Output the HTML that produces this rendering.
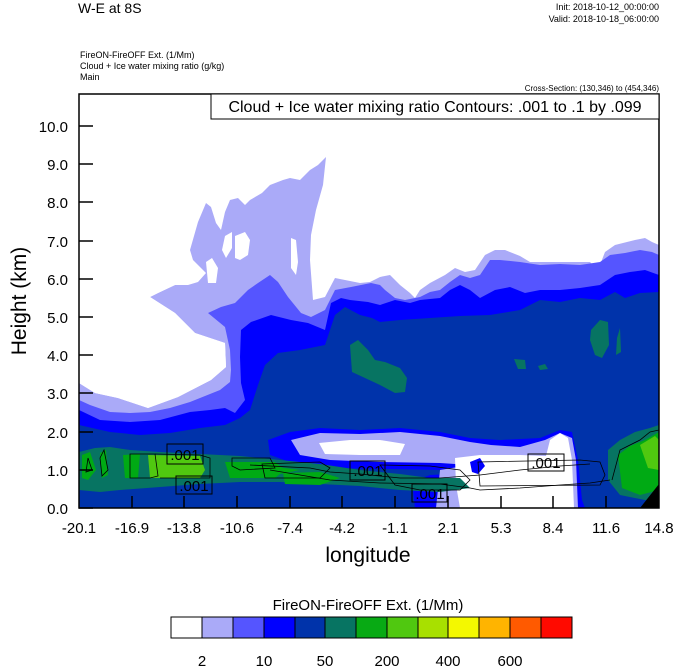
<!DOCTYPE html>
<html><head><meta charset="utf-8"><style>
body{margin:0;background:#fff;}
svg{display:block;font-family:"Liberation Sans",sans-serif;}
</style></head><body>
<svg width="674" height="667" viewBox="0 0 674 667" xmlns="http://www.w3.org/2000/svg">
<rect width="674" height="667" fill="#fff"/>
<text x="78" y="13" font-size="14">W-E at 8S</text>
<text x="659" y="10" font-size="9" text-anchor="end">Init: 2018-10-12_00:00:00</text>
<text x="659" y="22" font-size="9" text-anchor="end">Valid: 2018-10-18_06:00:00</text>
<text x="80" y="58" font-size="9">FireON-FireOFF Ext.   (1/Mm)</text>
<text x="80" y="69" font-size="9">Cloud + Ice water mixing ratio   (g/kg)</text>
<text x="80" y="80" font-size="9">Main</text>
<text x="659" y="91" font-size="8" text-anchor="end">Cross-Section: (130,346) to (454,346)</text>
<defs><clipPath id="c"><rect x="79" y="94" width="580" height="414"/></clipPath></defs>
<g clip-path="url(#c)">
<rect x="79" y="94" width="580" height="414" fill="#fff"/>
<polygon fill="#aaaaf8" points="79,508 79,383 95,393 118,398 148,408 178,397 211,380 226,367 225,343 195,333 175,313 150,297 158,293 175,285 188,285 198,282 206,273 193,260 190,250 198,222 206,203 211,207 216,223 221,230 225,212 230,200 238,198 245,205 250,200 262,193 270,185 283,180 290,178 300,180 310,170 318,165 326,157 323,185 316,210 311,235 310,260 313,300 325,297 335,278 345,280 360,283 370,282 380,277 390,275 400,285 410,293 415,298 420,290 430,283 445,275 455,268 465,272 475,270 485,255 495,250 505,250 520,256 530,262 550,262 570,262 590,262 598,270 605,252 615,245 635,240 645,238 652,242 659,245 659,508"/>
<polygon fill="#fff" points="79,94 188,94 188,284 175,285 158,293 150,297 175,313 195,333 225,343 226,367 211,380 178,397 148,408 118,398 95,393 79,383"/>
<polygon fill="#fff" points="225,236 232,232 232,248 226,258 222,250"/>
<polygon fill="#fff" points="235,236 245,232 250,240 248,255 240,260 235,258"/>
<polygon fill="#fff" points="206,262 212,258 218,268 216,283 208,283"/>
<polygon fill="#fff" points="291,238 296,240 298,262 296,275 291,268"/>
<polygon fill="#5555ff" points="79,400 90,405 110,412 130,413 150,412 170,408 190,402 205,396 220,390 230,382 231,370 230,350 225,327 208,313 221,307 235,303 248,290 258,283 270,275 278,282 288,297 301,313 311,317 325,310 335,290 351,287 371,283 380,285 385,290 395,298 405,300 420,297 430,292 440,290 450,282 460,275 470,278 480,275 490,260 500,260 520,262 540,265 560,264 580,265 600,262 610,255 625,253 640,250 652,252 659,255 659,508 79,508"/>
<polygon fill="#0000ff" points="79,410 100,420 130,422 160,420 190,412 210,410 225,408 235,413 245,400 241,383 240,357 241,330 251,322 271,315 291,320 308,323 325,330 331,303 341,298 350,300 368,302 380,305 395,300 410,303 420,300 440,298 450,290 460,285 470,290 480,298 495,290 510,287 525,293 540,290 560,290 580,288 600,285 615,275 630,272 645,270 659,275 659,508 79,508"/>
<polygon fill="#0033aa" points="79,425 110,432 140,435 170,433 200,428 225,425 240,418 250,410 258,385 265,365 278,353 300,350 325,345 335,315 345,307 360,315 372,318 380,322 400,320 430,318 460,316 490,315 520,310 540,300 560,302 580,298 600,300 615,292 625,298 640,293 659,292 659,508 79,508"/>
<polygon fill="#077462" points="350,345 358,340 368,350 375,360 385,362 400,368 407,378 405,392 395,393 380,385 365,378 352,372"/>
<polygon fill="#077462" points="591,330 600,320 608,322 609,345 602,358 595,355 590,340"/>
<polygon fill="#077462" points="617,338 620,328 621,352 616,355"/>
<polygon fill="#077462" points="514,359 525,360 526,369 518,369"/>
<polygon fill="#077462" points="538,366 545,364 548,369 540,370"/>
<polygon fill="#0000ff" points="268,440 290,432 320,428 360,430 400,428 440,432 470,438 500,440 540,438 560,430 572,432 578,460 582,500 585,508 415,508 412,482 430,475 470,473 440,470 330,468 290,462 270,455"/>
<polygon fill="#aaaaf8" points="291,440 320,433 360,434 400,432 440,436 470,442 491,445 520,447 545,440 560,433 572,438 576,460 578,508 436,508 440,470 470,465 440,463 380,462 330,460 300,455"/>
<polygon fill="#fff" points="319,443 350,440 380,440 405,444 400,455 360,455 325,454"/>
<polygon fill="#fff" points="455,458 480,455 520,455 546,456 550,440 560,433 568,438 572,460 574,508 460,508 456,485"/>
<polygon fill="#0000ff" points="470,462 480,458 485,466 478,474 472,472"/>
<polygon fill="#077462" points="79,452 95,448 110,447 130,450 160,452 200,454 240,456 280,460 320,464 360,470 400,474 430,478 460,478 470,488 440,492 400,490 360,486 320,484 280,482 240,482 200,484 160,487 120,490 100,492 79,490"/>
<polygon fill="#00aa14" points="82,455 90,452 96,470 88,480 82,478"/>
<polygon fill="#00aa14" points="100,453 106,450 108,475 102,478"/>
<polygon fill="#00aa14" points="123,455 140,454 138,478 125,478"/>
<polygon fill="#50c810" points="148,455 200,456 205,470 200,478 150,478"/>
<polygon fill="#00aa14" points="225,462 275,462 285,470 275,478 230,478"/>
<polygon fill="#00aa14" points="238,468 262,465 300,470 280,474 240,476"/>
<polygon fill="#00aa14" points="283,473 320,472 340,478 320,485 285,484"/>
<polygon fill="#077462" points="608,450 620,440 635,432 650,428 659,425 659,500 645,500 620,495 608,480"/>
<polygon fill="#00aa14" points="618,455 630,446 645,440 659,432 659,490 640,495 622,488"/>
<polygon fill="#50c810" points="640,445 655,436 659,440 659,470 648,468"/>
<polygon fill="#000" points="640,508 659,484 659,508"/>
<g fill="none" stroke="#000" stroke-width="0.8">
<path d="M130,454 L155,454 L158,476 L150,478 L130,478 Z"/>
<path d="M155,454 L200,455 L210,458 L210,478 L160,478"/>
<path d="M232,458 L270,458 L275,468 L240,470 L232,466 Z"/>
<path d="M250,465 L310,468 L330,472 L360,474 L400,478 L440,478 L480,475 L520,470 L560,466 L590,464"/>
<path d="M270,470 L330,480 L380,483 L440,484 L470,488 L480,490 L520,488 L560,485 L590,483 L610,480"/>
<path d="M262,464 L290,463 L320,462 L330,468 L320,478 L265,478 Z"/>
<path d="M380,465 L430,466 L460,470 L470,480 L460,490 L420,490 L395,485 Z"/>
<path d="M478,462 L580,460 L600,462 L605,475 L600,485 L480,486 Z"/>
<path d="M612,480 L620,450 L640,440 L650,432 L659,430"/>
<path d="M100,458 L104,450 L108,470 L102,476 Z"/>
<path d="M88,458 L92,470 L86,472 Z"/>
</g>
<g font-size="15" fill="#000">
<rect x="167" y="444" width="36" height="20" fill="none" stroke="#000" stroke-width="1"/><text x="185" y="460" text-anchor="middle">.001</text>
<rect x="176" y="476" width="36" height="18" fill="none" stroke="#000" stroke-width="1"/><text x="194" y="491" text-anchor="middle">.001</text>
<rect x="350" y="461" width="35" height="19" fill="none" stroke="#000" stroke-width="1"/><text x="368" y="476" text-anchor="middle">.001</text>
<rect x="412" y="484" width="35" height="18" fill="none" stroke="#000" stroke-width="1"/><text x="430" y="499" text-anchor="middle">.001</text>
<rect x="528" y="454" width="36" height="17" fill="none" stroke="#000" stroke-width="1"/><text x="546" y="468" text-anchor="middle">.001</text>
</g>
</g>
<rect x="79" y="94" width="580" height="414" fill="none" stroke="#000" stroke-width="1.5"/>
<rect x="211" y="94" width="448" height="25" fill="#fff" stroke="#000" stroke-width="1"/>
<text x="435" y="112" font-size="16" text-anchor="middle">Cloud + Ice water mixing ratio Contours: .001 to .1 by .099</text>
<g stroke="#000" stroke-width="1.5">
<line x1="79" y1="508" x2="93" y2="508"/><line x1="79" y1="470" x2="93" y2="470"/><line x1="79" y1="432" x2="93" y2="432"/><line x1="79" y1="393" x2="93" y2="393"/><line x1="79" y1="355" x2="93" y2="355"/><line x1="79" y1="317" x2="93" y2="317"/><line x1="79" y1="279" x2="93" y2="279"/><line x1="79" y1="241" x2="93" y2="241"/><line x1="79" y1="202" x2="93" y2="202"/><line x1="79" y1="164" x2="93" y2="164"/><line x1="79" y1="126" x2="93" y2="126"/>
<line x1="132" y1="508" x2="132" y2="496"/><line x1="184" y1="508" x2="184" y2="496"/><line x1="237" y1="508" x2="237" y2="496"/><line x1="290" y1="508" x2="290" y2="496"/><line x1="342" y1="508" x2="342" y2="496"/><line x1="395" y1="508" x2="395" y2="496"/><line x1="448" y1="508" x2="448" y2="496"/><line x1="501" y1="508" x2="501" y2="496"/><line x1="553" y1="508" x2="553" y2="496"/><line x1="606" y1="508" x2="606" y2="496"/>
</g>
<g font-size="15" text-anchor="end">
<text x="68" y="514">0.0</text><text x="68" y="476">1.0</text><text x="68" y="438">2.0</text><text x="68" y="399">3.0</text><text x="68" y="361">4.0</text><text x="68" y="323">5.0</text><text x="68" y="285">6.0</text><text x="68" y="247">7.0</text><text x="68" y="208">8.0</text><text x="68" y="170">9.0</text><text x="68" y="132">10.0</text>
</g>
<g font-size="15" text-anchor="middle">
<text x="79" y="533">-20.1</text><text x="132" y="533">-16.9</text><text x="184" y="533">-13.8</text><text x="237" y="533">-10.6</text><text x="290" y="533">-7.4</text><text x="342" y="533">-4.2</text><text x="395" y="533">-1.1</text><text x="448" y="533">2.1</text><text x="501" y="533">5.3</text><text x="553" y="533">8.4</text><text x="606" y="533">11.6</text><text x="659" y="533">14.8</text>
</g>
<text x="368" y="562" font-size="21" text-anchor="middle">longitude</text>
<text transform="translate(26,301) rotate(-90)" font-size="21" text-anchor="middle">Height (km)</text>
<text x="368" y="610" font-size="15" text-anchor="middle">FireON-FireOFF Ext.  (1/Mm)</text>
<g stroke="#000" stroke-width="1">
<rect x="171" y="617" width="31" height="21" fill="#fff"/>
<rect x="202" y="617" width="31" height="21" fill="#aaaaf8"/>
<rect x="233" y="617" width="31" height="21" fill="#5555ff"/>
<rect x="264" y="617" width="31" height="21" fill="#0000ff"/>
<rect x="295" y="617" width="30" height="21" fill="#0033aa"/>
<rect x="325" y="617" width="31" height="21" fill="#077462"/>
<rect x="356" y="617" width="31" height="21" fill="#08aa14"/>
<rect x="387" y="617" width="31" height="21" fill="#50c810"/>
<rect x="418" y="617" width="30" height="21" fill="#a8e000"/>
<rect x="448" y="617" width="31" height="21" fill="#f4f800"/>
<rect x="479" y="617" width="31" height="21" fill="#ffb400"/>
<rect x="510" y="617" width="31" height="21" fill="#ff5a00"/>
<rect x="541" y="617" width="31" height="21" fill="#ff0a00"/>
</g>
<g font-size="15" text-anchor="middle">
<text x="202" y="666">2</text><text x="264" y="666">10</text><text x="325" y="666">50</text><text x="387" y="666">200</text><text x="448" y="666">400</text><text x="510" y="666">600</text>
</g>
</svg>
</body></html>
